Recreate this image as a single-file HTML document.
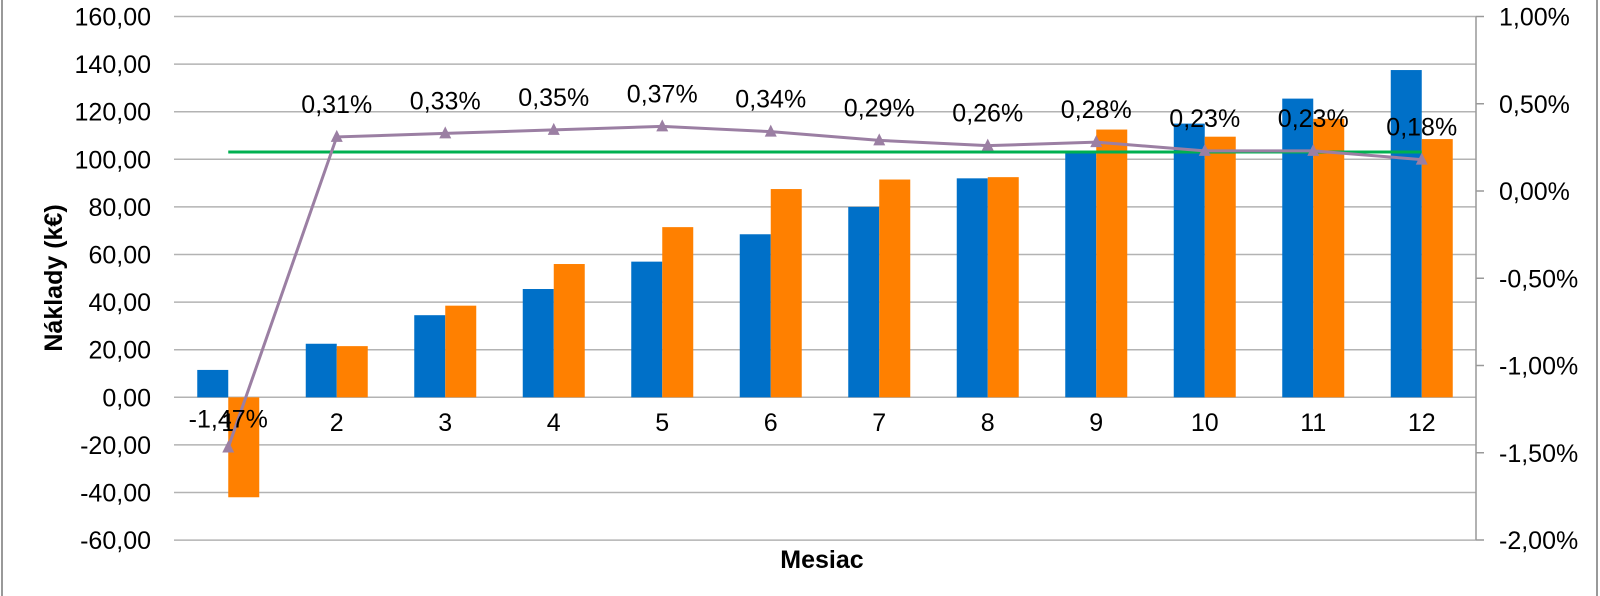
<!DOCTYPE html>
<html><head><meta charset="utf-8"><style>body{margin:0;background:#fff}svg{display:block}text{font-family:"Liberation Sans",sans-serif;fill:#000}</style></head><body>
<svg width="1600" height="596" xmlns="http://www.w3.org/2000/svg">
<rect x="0" y="0" width="1600" height="596" fill="#fff"/>
<line x1="2" y1="0" x2="2" y2="596" stroke="#999" stroke-width="2"/>
<line x1="1597" y1="0" x2="1597" y2="596" stroke="#999" stroke-width="2"/>
<g id="g"></g>
<script>
const NS="http://www.w3.org/2000/svg",g=document.getElementById('g');
function el(t,a,txt){const e=document.createElementNS(NS,t);for(const k in a)e.setAttribute(k,a[k]);if(txt!=null)e.textContent=txt;g.appendChild(e);return e;}
const L=174,R=1476,T=16.5,S=47.6,cw=(R-L)/12,FS=25;
const yv=v=>T+(160-v)/20*S;
const yp=p=>T+(1-p)*(540-T)/3;
for(let i=0;i<12;i++){const v=160-i*20,y=T+i*S;
 el('line',{x1:L,y1:y,x2:R,y2:y,stroke:'#b3b3b3','stroke-width':1.5});
 el('text',{x:151,y:y+9,'font-size':FS,'text-anchor':'end'},v.toFixed(2).replace('.',','));}
for(let i=0;i<7;i++){const p=1-i*0.5,y=yp(p);
 el('line',{x1:R,y1:y,x2:R+8,y2:y,stroke:'#999','stroke-width':1.5});
 el('text',{x:1499,y:y+9,'font-size':FS},p.toFixed(2).replace('.',',')+'%');}
el('line',{x1:R,y1:T,x2:R,y2:540,stroke:'#999','stroke-width':1.5});
const B=[11.5,22.5,34.5,45.5,57,68.5,80,92,103,115,125.5,137.5];
const O=[-42,21.5,38.5,56,71.5,87.5,91.5,92.5,112.5,109.5,117,108.5];
const P=[-1.47,0.31,0.33,0.35,0.37,0.34,0.29,0.26,0.28,0.23,0.23,0.18];
const z=yv(0);
for(let i=0;i<12;i++){const c=L+cw*(i+0.5);
 el('rect',{x:c-31,y:Math.min(z,yv(B[i])),width:31,height:Math.abs(z-yv(B[i])),fill:'#0070c8'});
 el('rect',{x:c,y:Math.min(z,yv(O[i])),width:31,height:Math.abs(z-yv(O[i])),fill:'#ff8000'});
 el('text',{x:c,y:431,'font-size':FS,'text-anchor':'middle'},String(i+1));}
el('line',{x1:L+cw*0.5,y1:152,x2:L+cw*11.5,y2:152,stroke:'#00b050','stroke-width':3});
el('polyline',{points:P.map((p,i)=>(L+cw*(i+0.5))+','+yp(p)).join(' '),fill:'none',stroke:'#9b7fa3','stroke-width':3});
P.forEach((p,i)=>{const x=L+cw*(i+0.5),y=yp(p);
 el('polygon',{points:`${x-6},${y+5} ${x+6},${y+5} ${x},${y-7}`,fill:'#9b7fa3'});
 el('text',{x:x,y:i==0?y-20:y-24,'font-size':FS,'text-anchor':'middle'},p.toFixed(2).replace('.',',')+'%');});
el('text',{x:822,y:568,'font-size':FS,'font-weight':'bold','text-anchor':'middle'},'Mesiac');
el('text',{x:0,y:0,'font-size':FS,'font-weight':'bold','text-anchor':'middle',transform:'translate(62,278) rotate(-90)'},'Náklady (k€)');
</script>
</svg>
</body></html>
